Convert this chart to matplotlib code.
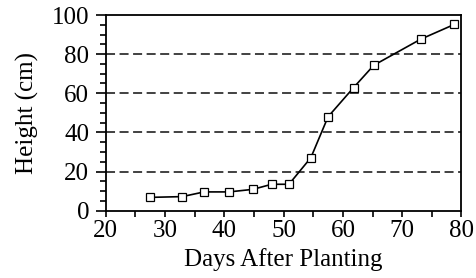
import matplotlib
matplotlib.use("Agg")
import matplotlib.pyplot as plt
from matplotlib.ticker import MultipleLocator

days = [27.4, 32.9, 36.6, 40.8, 44.8, 48.0, 50.9, 54.6, 57.5, 61.8, 65.2, 73.1, 78.8]
height = [6.8, 7.2, 9.6, 9.6, 10.9, 13.5, 13.5, 27.1, 48.0, 62.9, 74.3, 87.6, 95.2]
grid_levels = [20, 40, 60, 80]

plt.rcParams['font.family'] = ['Liberation Serif', 'DejaVu Serif']
fig = plt.figure(figsize=(4.77, 2.78), dpi=100)
ax = fig.add_axes([105.7/477, 1-210.7/278, (461.5-105.7)/477, (210.7-15)/278])

for g in grid_levels:
    ax.axhline(g, color='#333333', lw=1.3, ls=(0, (5, 2.5)), zorder=1)

ax.plot(days, height, color='black', lw=1.2, marker='s', ms=5.3, mfc='white',
        mec='black', mew=0.9, zorder=3)

ax.set_xlim(20, 80)
ax.set_ylim(0, 100)
ax.xaxis.set_major_locator(MultipleLocator(10))
ax.xaxis.set_minor_locator(MultipleLocator(5))
ax.yaxis.set_major_locator(MultipleLocator(20))
ax.yaxis.set_minor_locator(MultipleLocator(5))
ax.tick_params(axis='x', which='both', direction='out', length=4, width=1.2, labelsize=18, pad=3)
ax.tick_params(axis='y', which='major', direction='out', length=7, width=1.2, labelsize=18, pad=5)
ax.tick_params(axis='y', which='minor', direction='out', length=4, width=1.2)
for s in ax.spines.values():
    s.set_linewidth(1.3)
ax.set_xlabel('Days After Planting', fontsize=18, labelpad=4)
ax.set_ylabel('Height (cm)', fontsize=18, labelpad=9)

fig.savefig('out.png', dpi=100)
